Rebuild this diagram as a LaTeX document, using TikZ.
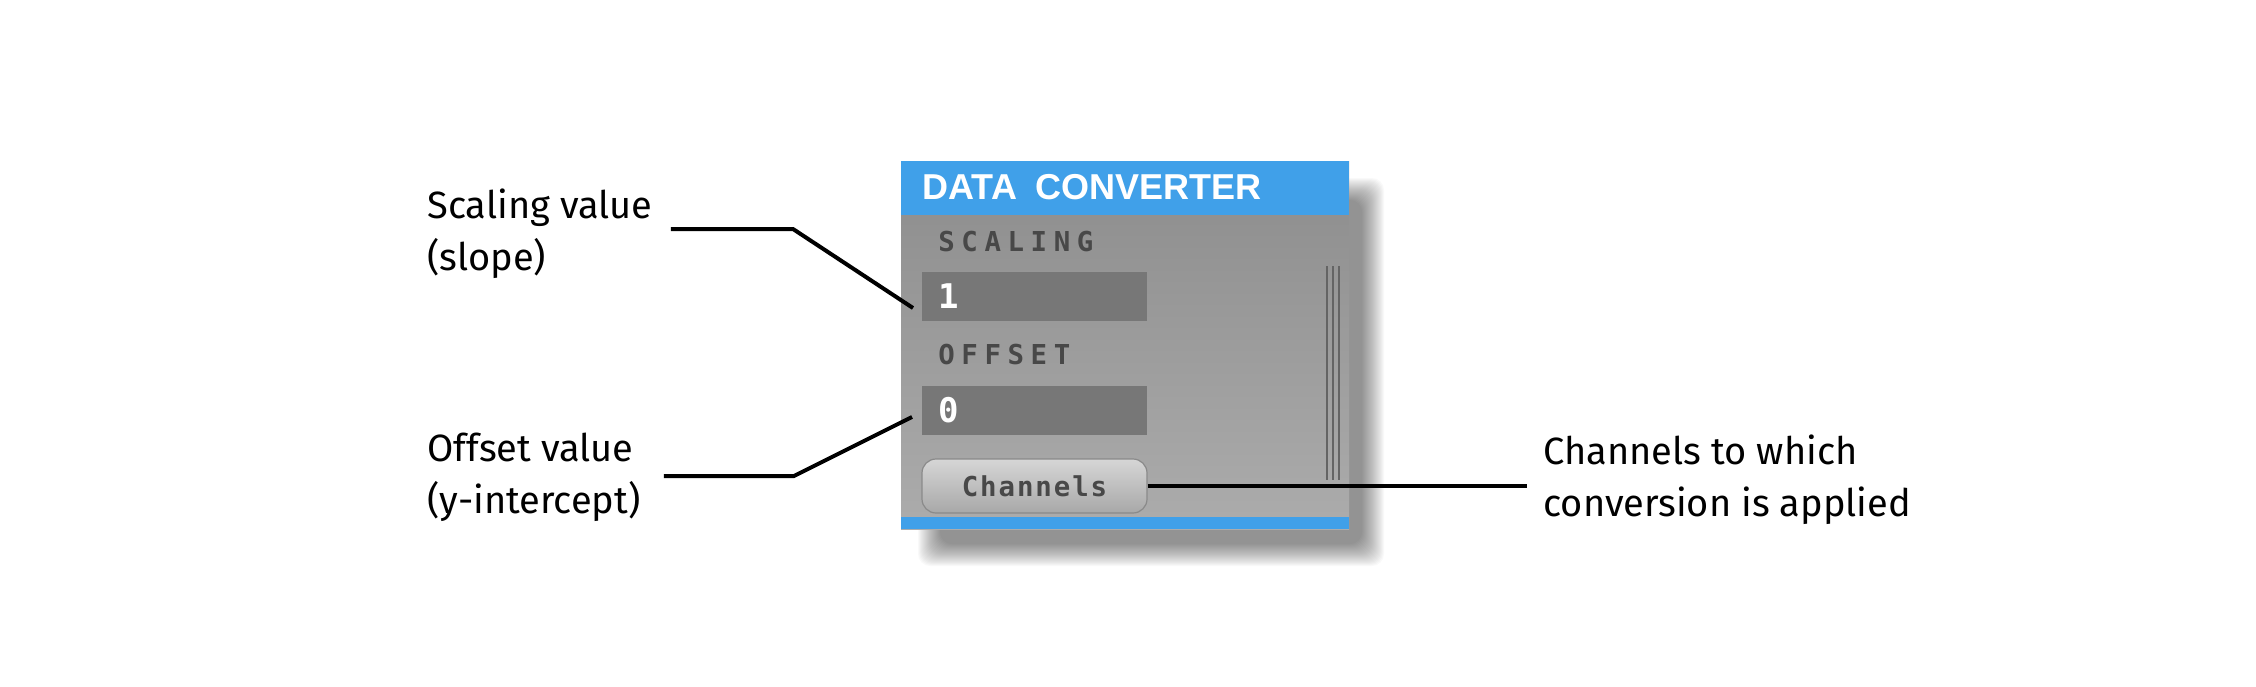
\documentclass[tikz,border=0pt]{standalone}
\usepackage{fontspec}
\setmainfont{Fira Sans}
\newfontfamily\titlefont{Liberation Sans}
\newfontfamily\capfont[LetterSpace=24]{DejaVu Sans Mono}
\newfontfamily\btnfont[LetterSpace=7]{DejaVu Sans Mono}
\newfontfamily\valfont{DejaVu Sans Mono}
\usepackage{tikz}
\usetikzlibrary{calc}
\usetikzlibrary{positioning}

\definecolor{dcblue}{RGB}{64,160,233}
\definecolor{paneltop}{RGB}{140,140,140}
\definecolor{panelbot}{RGB}{172,172,172}
\definecolor{fieldgray}{RGB}{119,119,119}
\definecolor{capgray}{RGB}{72,72,72}
\definecolor{btntop}{RGB}{214,214,214}
\definecolor{btnbot}{RGB}{168,168,168}
\definecolor{btnline}{RGB}{138,138,138}
\definecolor{scrollgray}{RGB}{100,100,100}

\tikzset{
  callout/.style={font=\fontsize{19}{26}\selectfont,align=left,inner sep=0pt,anchor=north west},
  leader/.style={draw,line width=2pt,black},
  field/.style={fill=fieldgray,minimum width=112.5pt,minimum height=24.5pt,inner sep=0pt},
  fieldval/.style={font=\valfont\bfseries\fontsize{17}{17}\selectfont,text=white,inner sep=0pt,anchor=west},
  caption/.style={font=\capfont\bfseries\fontsize{13.7}{14}\selectfont,text=capgray,inner sep=0pt,anchor=west},
  button/.style={draw=btnline,line width=0.6pt,rounded corners=7pt,top color=btntop,bottom color=btnbot,
    minimum width=112.5pt,minimum height=27pt,inner sep=0pt,
    font=\btnfont\bfseries\fontsize{13.7}{14}\selectfont,text=capgray},
  scrollline/.style={draw=scrollgray,line width=1.1pt}
}

\begin{document}
\begin{tikzpicture}[x=0.5pt,y=-0.5pt]

  \useasboundingbox (0,0) rectangle (2256,686);

  % shadow
  \foreach \r in {0,...,22}
    \fill [black,opacity=0.022,rounded corners=6pt] (940-\r,200-\r) rectangle (1362+\r,544+\r);

  % panel
  \shade [top color=paneltop,bottom color=panelbot] (901,161) rectangle (1349,529);
  \fill [dcblue] (901,161) rectangle (1349,215);
  \fill [dcblue] (901,517) rectangle (1349,529);

  \node [anchor=west,inner sep=0pt,text=white,font=\titlefont\bfseries\fontsize{18}{18}\selectfont] (title) at (922,187.5) {DATA\hspace{4pt} CONVERTER};

  \node [caption] (scalcap) at (938,242) {SCALING};
  \node [field] (scalfield) at (1034.5,296.5) {};
  \node [fieldval] (scalval) at ([xshift=8pt]scalfield.west) {1};

  \node [caption] (offcap) at (938,355) {OFFSET};
  \node [field] (offfield) at (1034.5,410) {};
  \node [fieldval] (offval) at ([xshift=8pt]offfield.west) {0};

  \node [button] (chanbtn) at (1034.5,486) {Channels};

  \foreach \sx in {1327,1333,1339}
    \draw [scrollline] (\sx,266) -- (\sx,480);

  % callouts
  \node [callout] (scallab) at (427,188) {Scaling value\\(slope)};
  \node [callout] (offlab) at (427,433) {Offset value\\(y-intercept)};
  \node [callout] (chanlab) at (1543,434) {Channels to which\\conversion is applied};

  \coordinate (scalbend) at (793,229);
  \coordinate (scaltip) at (913,308);
  \coordinate (offbend) at (794,476);
  \coordinate (offtip) at (912,417);

  \draw [leader] ([xshift=9pt]scallab.east |- scalbend) -- (scalbend) -- (scaltip);
  \draw [leader] ([xshift=11.5pt]offlab.east |- offbend) -- (offbend) -- (offtip);
  \draw [leader] (chanbtn.east) -- ([xshift=-8pt]chanlab.west |- chanbtn.east);

\end{tikzpicture}
\end{document}
